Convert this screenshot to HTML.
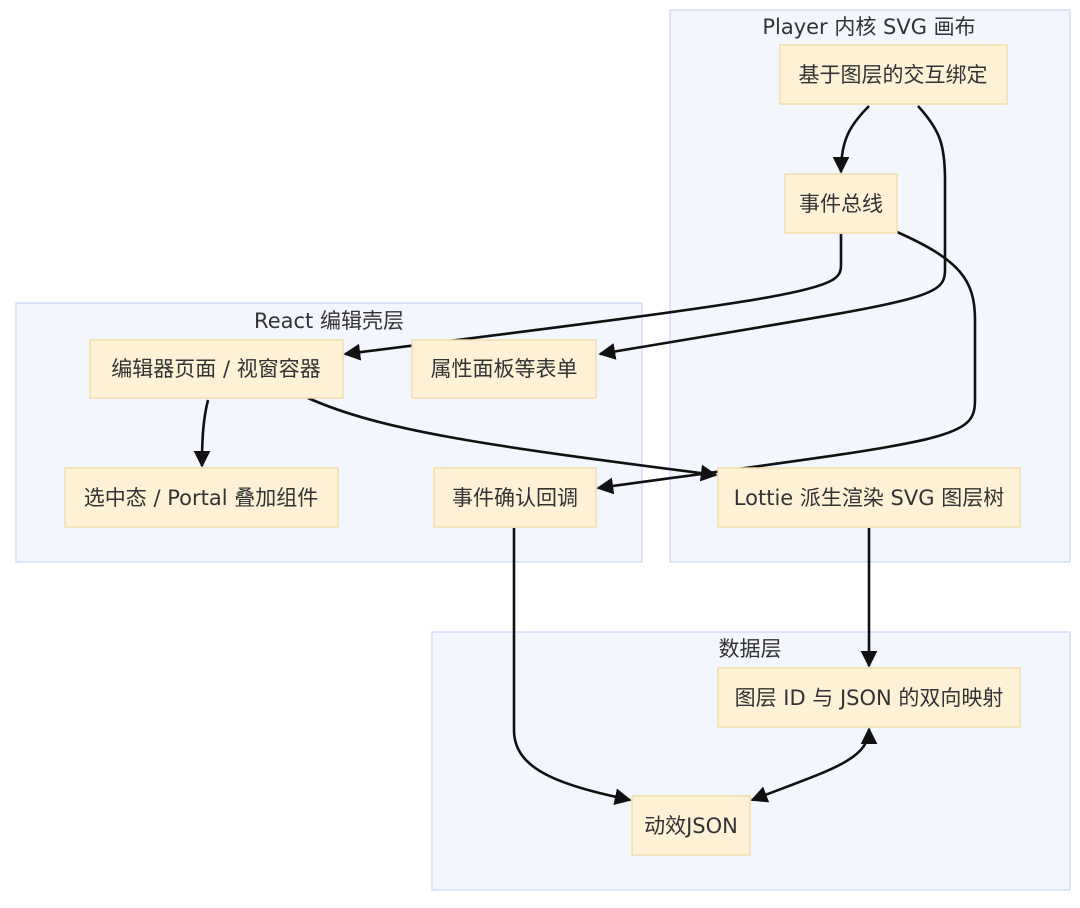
<!DOCTYPE html>
<html><head><meta charset="utf-8"><style>
html,body{margin:0;padding:0;background:#fff;}
svg{display:block}
text{font-family:"DejaVu Sans","Noto Sans CJK SC",sans-serif;fill:#333;font-size:21px;}
.c{fill:#f4f6fd;stroke:#cdd6f3;stroke-width:1.2}
.n{fill:#fdf2d6;stroke:#efdca8;stroke-width:1.4}
.e{fill:none;stroke:#111;stroke-width:2.6}
</style></head><body>
<svg width="1080" height="908" viewBox="0 0 1080 908">
<defs>
<marker id="a" viewBox="0 0 10 10" refX="9" refY="5" markerWidth="6.5" markerHeight="6.5" orient="auto-start-reverse"><path d="M0,0L10,5L0,10z" fill="#111"/></marker>
</defs>
<rect class="c" x="670" y="10" width="400" height="552"/>
<rect class="c" x="16" y="303" width="626" height="259"/>
<rect class="c" x="432" y="632" width="638" height="258"/>
<text x="869" y="34" text-anchor="middle" font-size="20">Player 内核 SVG 画布</text>
<text x="329" y="328" text-anchor="middle" font-size="20">React 编辑壳层</text>
<text x="750" y="656" text-anchor="middle" font-size="20">数据层</text>

<path class="e" marker-end="url(#a)" d="M869,106 C850,125 841,140 841,172"/>
<path class="e" marker-end="url(#a)" d="M918,106 C940,130 945,145 945,180 L945,270 C945,300 920,300 600,354"/>
<path class="e" marker-end="url(#a)" d="M841,234 L841,265 C841,290 820,295 345,354"/>
<path class="e" marker-end="url(#a)" d="M897,232 C960,260 975,280 975,320 L975,400 C975,440 950,440 598,488"/>
<path class="e" marker-end="url(#a)" d="M208,400 C203,420 202,440 202,466"/>
<path class="e" marker-end="url(#a)" d="M308,398 C380,430 480,445 716,475"/>
<path class="e" marker-end="url(#a)" d="M514,528 L514,730 C514,770 560,785 630,800"/>
<path class="e" marker-end="url(#a)" d="M869,528 L869,666"/>
<path class="e" marker-start="url(#a)" marker-end="url(#a)" d="M869,729 C869,760 830,770 752,800"/>

<rect class="n" x="780" y="45" width="227" height="59"/>
<text x="893" y="82" text-anchor="middle">基于图层的交互绑定</text>
<rect class="n" x="785" y="174" width="112" height="59"/>
<text x="841" y="211" text-anchor="middle">事件总线</text>
<rect class="n" x="90" y="340" width="253" height="58"/>
<text x="216" y="376" text-anchor="middle">编辑器页面 / 视窗容器</text>
<rect class="n" x="412" y="340" width="184" height="58"/>
<text x="504" y="376" text-anchor="middle">属性面板等表单</text>
<rect class="n" x="65" y="468" width="273" height="59"/>
<text x="201" y="505" text-anchor="middle">选中态 / Portal 叠加组件</text>
<rect class="n" x="434" y="468" width="162" height="59"/>
<text x="515" y="505" text-anchor="middle">事件确认回调</text>
<rect class="n" x="718" y="468" width="302" height="59"/>
<text x="869" y="505" text-anchor="middle">Lottie 派生渲染 SVG 图层树</text>
<rect class="n" x="718" y="668" width="302" height="59"/>
<text x="869" y="705" text-anchor="middle">图层 ID 与 JSON 的双向映射</text>
<rect class="n" x="632" y="796" width="118" height="59"/>
<text x="691" y="833" text-anchor="middle">动效JSON</text>
</svg>
</body></html>
